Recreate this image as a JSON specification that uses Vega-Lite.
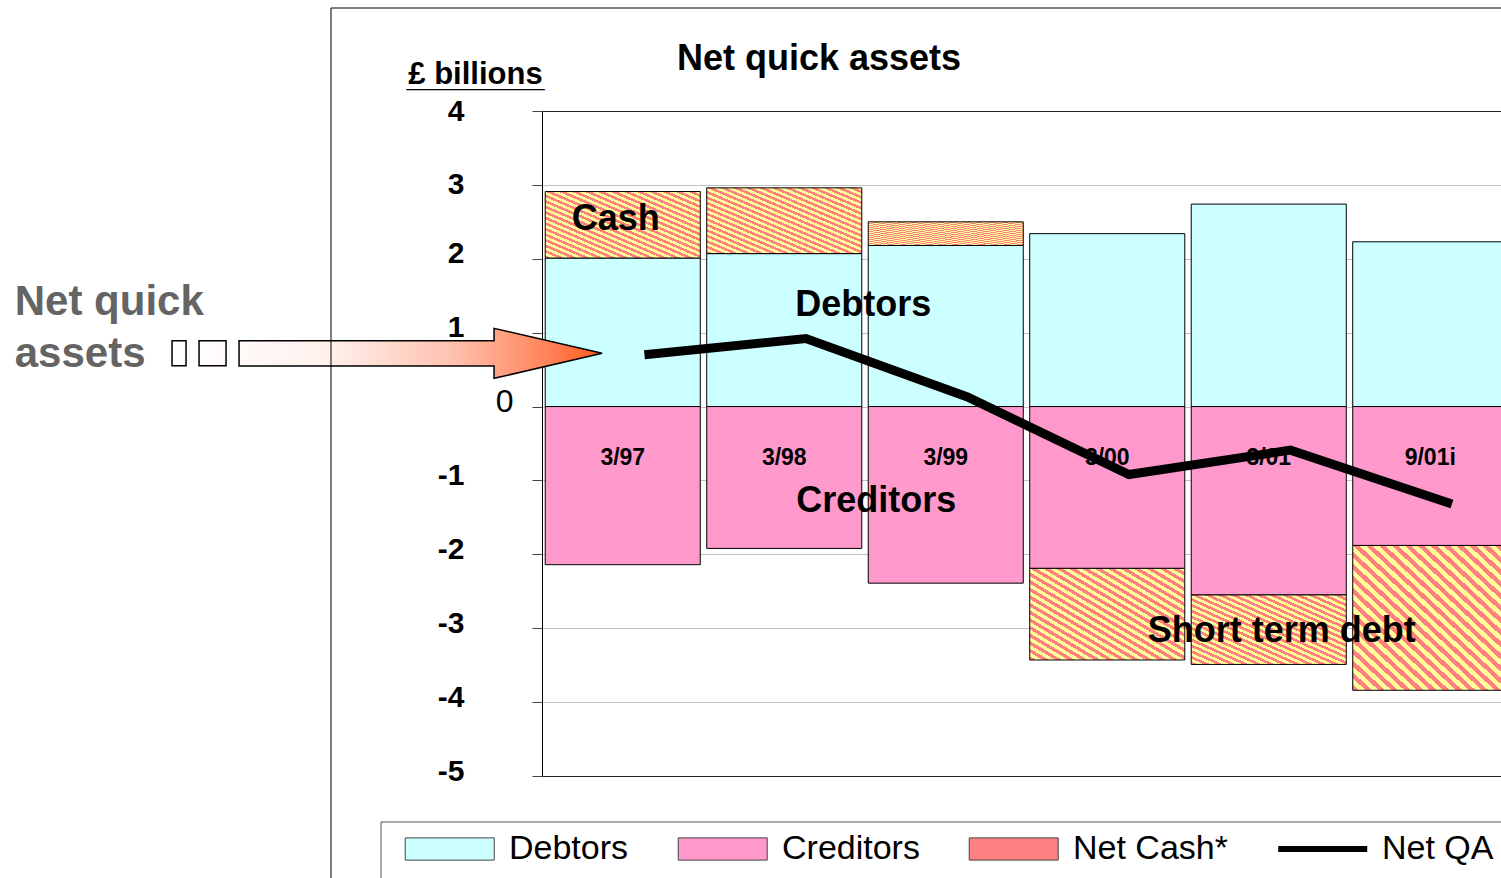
{
  "$schema": "https://vega.github.io/schema/vega-lite/v6.json",
  "width": 959,
  "height": 665,
  "autosize": {"type": "none"},
  "padding": {"left": 542, "top": 111, "right": 0, "bottom": 102},
  "background": "#ffffff",
  "config": {"view": {"stroke": null}, "font": "Liberation Sans"},
  "title": {"text": "Net quick assets", "anchor": "start", "frame": "group", "align": "left", "dx": 135, "offset": -99, "baseline": "alphabetic", "font": "Liberation Sans", "fontSize": 36, "fontWeight": "bold", "color": "#000000"},
  "layer": [
    {
      "data": {"values": [
        {"cat": "3/97", "part": "Debtors", "amount": 2.01},
        {"cat": "3/97", "part": "Net Cash*", "amount": 0.90},
        {"cat": "3/97", "part": "Creditors", "amount": -2.14},
        {"cat": "3/98", "part": "Debtors", "amount": 2.07},
        {"cat": "3/98", "part": "Net Cash*", "amount": 0.89},
        {"cat": "3/98", "part": "Creditors", "amount": -1.92},
        {"cat": "3/99", "part": "Debtors", "amount": 2.18},
        {"cat": "3/99", "part": "Net Cash*", "amount": 0.32},
        {"cat": "3/99", "part": "Creditors", "amount": -2.39},
        {"cat": "3/00", "part": "Debtors", "amount": 2.34},
        {"cat": "3/00", "part": "Creditors", "amount": -2.19},
        {"cat": "3/00", "part": "Net Cash*", "amount": -1.24},
        {"cat": "3/01", "part": "Debtors", "amount": 2.74},
        {"cat": "3/01", "part": "Creditors", "amount": -2.55},
        {"cat": "3/01", "part": "Net Cash*", "amount": -0.94},
        {"cat": "9/01i", "part": "Debtors", "amount": 2.23},
        {"cat": "9/01i", "part": "Creditors", "amount": -1.88},
        {"cat": "9/01i", "part": "Net Cash*", "amount": -1.96}
      ]},
      "transform": [{"stack": "amount", "groupby": ["cat"], "sort": [{"field": "part", "order": "ascending"}], "as": ["v0", "v1"], "offset": "zero"}],
      "encoding": {
        "x": {"field": "cat", "type": "nominal", "sort": null, "scale": {"domain": ["3/97", "3/98", "3/99", "3/00", "3/01", "9/01i"], "range": [0, 969], "paddingInner": 0.04, "paddingOuter": 0.02}, "axis": null},
        "y": {"field": "v0", "type": "quantitative", "scale": {"domain": [-5, 4], "nice": false, "zero": false},
          "axis": {
            "values": [-5, -4, -3, -2, -1, 0, 1, 2, 3, 4],
            "labelExpr": "'' + datum.value",
            "grid": true,
            "gridColor": {"condition": {"test": "datum.value === 4 || datum.value === -5", "value": "#222222"}, "value": "#c0c0c0"},
            "domain": true, "domainColor": "#000000", "domainWidth": 1,
            "ticks": true, "tickSize": 10, "tickColor": "#444444",
            "labelFont": "Liberation Sans",
            "labelFontSize": {"condition": {"test": "datum.value === 0", "value": 32}, "value": 30},
            "labelFontWeight": {"condition": {"test": "datum.value === 0", "value": "normal"}, "value": "bold"},
            "labelPadding": {"condition": {"test": "datum.value === 0", "value": 19}, "value": 68},
            "labelOffset": {"condition": {"test": "datum.value >= 3", "value": 0}, "value": -5},
            "labelColor": "#000000", "labelBaseline": "middle",
            "title": ["£ billions", "________"],
            "titleFont": "Liberation Sans", "titleFontSize": 31, "titleFontWeight": "bold", "titleColor": "#000000",
            "titleAngle": 0, "titleAlign": "center", "titleBaseline": "alphabetic", "titleX": -67, "titleY": -28, "titleLineHeight": 2
          }},
        "y2": {"field": "v1"}
      },
      "layer": [
        {
          "transform": [{"filter": "datum.part !== 'Net Cash*'"}],
          "mark": {"type": "bar", "stroke": "#000000", "strokeWidth": 1},
          "encoding": {
            "color": {"field": "part", "type": "nominal",
              "scale": {"domain": ["Debtors", "Creditors", "Net Cash*"], "range": ["#ccffff", "#ff99cc", "#ff8080"]},
              "legend": {
                "title": null, "orient": "none", "legendX": -161, "legendY": 711, "direction": "horizontal",
                "padding": 10,
                "labelFont": "Liberation Sans", "labelFontSize": 34, "labelColor": "#000000", "labelLimit": 300,
                "symbolType": "M-0.25,-1H7.75V1H-0.25Z", "symbolSize": 495, "symbolStrokeColor": "#444444", "symbolStrokeWidth": 1,
                "labelOffset": 84, "columnPadding": 35
              }}
          }
        },
        {
          "transform": [{"filter": "datum.part === 'Net Cash*'"}],
          "mark": {"type": "bar", "stroke": "#000000", "strokeWidth": 1,
            "fill": {"gradient": "linear", "x1": 0, "y1": 1, "x2": 1, "y2": 0, "stops": [
              {"offset": 0, "color": "#ff8080"}, {"offset": 0.0208, "color": "#ff8080"},
              {"offset": 0.0208, "color": "#ffff99"}, {"offset": 0.0417, "color": "#ffff99"},
              {"offset": 0.0417, "color": "#ff8080"}, {"offset": 0.0625, "color": "#ff8080"},
              {"offset": 0.0625, "color": "#ffff99"}, {"offset": 0.0833, "color": "#ffff99"},
              {"offset": 0.0833, "color": "#ff8080"}, {"offset": 0.1042, "color": "#ff8080"},
              {"offset": 0.1042, "color": "#ffff99"}, {"offset": 0.125, "color": "#ffff99"},
              {"offset": 0.125, "color": "#ff8080"}, {"offset": 0.1458, "color": "#ff8080"},
              {"offset": 0.1458, "color": "#ffff99"}, {"offset": 0.1667, "color": "#ffff99"},
              {"offset": 0.1667, "color": "#ff8080"}, {"offset": 0.1875, "color": "#ff8080"},
              {"offset": 0.1875, "color": "#ffff99"}, {"offset": 0.2083, "color": "#ffff99"},
              {"offset": 0.2083, "color": "#ff8080"}, {"offset": 0.2292, "color": "#ff8080"},
              {"offset": 0.2292, "color": "#ffff99"}, {"offset": 0.25, "color": "#ffff99"},
              {"offset": 0.25, "color": "#ff8080"}, {"offset": 0.2708, "color": "#ff8080"},
              {"offset": 0.2708, "color": "#ffff99"}, {"offset": 0.2917, "color": "#ffff99"},
              {"offset": 0.2917, "color": "#ff8080"}, {"offset": 0.3125, "color": "#ff8080"},
              {"offset": 0.3125, "color": "#ffff99"}, {"offset": 0.3333, "color": "#ffff99"},
              {"offset": 0.3333, "color": "#ff8080"}, {"offset": 0.3542, "color": "#ff8080"},
              {"offset": 0.3542, "color": "#ffff99"}, {"offset": 0.375, "color": "#ffff99"},
              {"offset": 0.375, "color": "#ff8080"}, {"offset": 0.3958, "color": "#ff8080"},
              {"offset": 0.3958, "color": "#ffff99"}, {"offset": 0.4167, "color": "#ffff99"},
              {"offset": 0.4167, "color": "#ff8080"}, {"offset": 0.4375, "color": "#ff8080"},
              {"offset": 0.4375, "color": "#ffff99"}, {"offset": 0.4583, "color": "#ffff99"},
              {"offset": 0.4583, "color": "#ff8080"}, {"offset": 0.4792, "color": "#ff8080"},
              {"offset": 0.4792, "color": "#ffff99"}, {"offset": 0.5, "color": "#ffff99"},
              {"offset": 0.5, "color": "#ff8080"}, {"offset": 0.5208, "color": "#ff8080"},
              {"offset": 0.5208, "color": "#ffff99"}, {"offset": 0.5417, "color": "#ffff99"},
              {"offset": 0.5417, "color": "#ff8080"}, {"offset": 0.5625, "color": "#ff8080"},
              {"offset": 0.5625, "color": "#ffff99"}, {"offset": 0.5833, "color": "#ffff99"},
              {"offset": 0.5833, "color": "#ff8080"}, {"offset": 0.6042, "color": "#ff8080"},
              {"offset": 0.6042, "color": "#ffff99"}, {"offset": 0.625, "color": "#ffff99"},
              {"offset": 0.625, "color": "#ff8080"}, {"offset": 0.6458, "color": "#ff8080"},
              {"offset": 0.6458, "color": "#ffff99"}, {"offset": 0.6667, "color": "#ffff99"},
              {"offset": 0.6667, "color": "#ff8080"}, {"offset": 0.6875, "color": "#ff8080"},
              {"offset": 0.6875, "color": "#ffff99"}, {"offset": 0.7083, "color": "#ffff99"},
              {"offset": 0.7083, "color": "#ff8080"}, {"offset": 0.7292, "color": "#ff8080"},
              {"offset": 0.7292, "color": "#ffff99"}, {"offset": 0.75, "color": "#ffff99"},
              {"offset": 0.75, "color": "#ff8080"}, {"offset": 0.7708, "color": "#ff8080"},
              {"offset": 0.7708, "color": "#ffff99"}, {"offset": 0.7917, "color": "#ffff99"},
              {"offset": 0.7917, "color": "#ff8080"}, {"offset": 0.8125, "color": "#ff8080"},
              {"offset": 0.8125, "color": "#ffff99"}, {"offset": 0.8333, "color": "#ffff99"},
              {"offset": 0.8333, "color": "#ff8080"}, {"offset": 0.8542, "color": "#ff8080"},
              {"offset": 0.8542, "color": "#ffff99"}, {"offset": 0.875, "color": "#ffff99"},
              {"offset": 0.875, "color": "#ff8080"}, {"offset": 0.8958, "color": "#ff8080"},
              {"offset": 0.8958, "color": "#ffff99"}, {"offset": 0.9167, "color": "#ffff99"},
              {"offset": 0.9167, "color": "#ff8080"}, {"offset": 0.9375, "color": "#ff8080"},
              {"offset": 0.9375, "color": "#ffff99"}, {"offset": 0.9583, "color": "#ffff99"},
              {"offset": 0.9583, "color": "#ff8080"}, {"offset": 0.9792, "color": "#ff8080"},
              {"offset": 0.9792, "color": "#ffff99"}, {"offset": 1, "color": "#ffff99"}
            ]}}
        }
      ]
    },
    {
      "data": {"values": [
        {"cat": "3/97", "netqa": 0.70},
        {"cat": "3/98", "netqa": 0.92},
        {"cat": "3/99", "netqa": 0.13},
        {"cat": "3/00", "netqa": -0.92},
        {"cat": "3/01", "netqa": -0.59},
        {"cat": "9/01i", "netqa": -1.32}
      ]},
      "layer": [
        {
          "mark": {"type": "text", "font": "Liberation Sans", "fontSize": 23, "fontWeight": "bold", "color": "#000000", "baseline": "middle", "align": "center"},
          "encoding": {
            "x": {"field": "cat", "type": "nominal"},
            "y": {"datum": -0.69, "type": "quantitative"},
            "text": {"field": "cat"}
          }
        },
        {
          "mark": {"type": "line", "strokeCap": "butt", "strokeJoin": "miter"},
          "encoding": {
            "x": {"field": "cat", "type": "nominal", "bandPosition": 0.64},
            "y": {"field": "netqa", "type": "quantitative"},
            "strokeWidth": {"value": 9},
            "stroke": {"datum": "Net QA", "type": "nominal", "scale": {"domain": ["Net QA"], "range": ["#000000"]},
              "legend": {
                "title": null, "orient": "none", "legendX": 712, "legendY": 711, "direction": "horizontal",
                "padding": 10,
                "labelFont": "Liberation Sans", "labelFontSize": 34, "labelColor": "#000000", "labelLimit": 300,
                "symbolType": "M-0.25,0H7.75", "symbolSize": 495, "symbolStrokeWidth": 6, "symbolStrokeColor": "#000000",
                "labelOffset": 84
              }}
          }
        }
      ]
    },
    {
      "data": {"values": [{"label": "Cash", "cat": "3/97", "value": 2.39}]},
      "mark": {"type": "text", "font": "Liberation Sans", "fontSize": 36, "fontWeight": "bold", "color": "#000000", "align": "center", "baseline": "alphabetic", "dx": -7},
      "encoding": {"x": {"field": "cat", "type": "nominal"}, "y": {"field": "value", "type": "quantitative"}, "text": {"field": "label"}}
    },
    {
      "data": {"values": [{"label": "Debtors", "cat": "3/98", "value": 1.23}]},
      "mark": {"type": "text", "font": "Liberation Sans", "fontSize": 36, "fontWeight": "bold", "color": "#000000", "align": "center", "baseline": "alphabetic", "dx": 79},
      "encoding": {"x": {"field": "cat", "type": "nominal"}, "y": {"field": "value", "type": "quantitative"}, "text": {"field": "label"}}
    },
    {
      "data": {"values": [{"label": "Creditors", "cat": "3/98", "value": -1.43}]},
      "mark": {"type": "text", "font": "Liberation Sans", "fontSize": 36, "fontWeight": "bold", "color": "#000000", "align": "center", "baseline": "alphabetic", "dx": 92},
      "encoding": {"x": {"field": "cat", "type": "nominal"}, "y": {"field": "value", "type": "quantitative"}, "text": {"field": "label"}}
    },
    {
      "data": {"values": [{"label": "Short term debt", "cat": "3/01", "value": -3.19}]},
      "mark": {"type": "text", "font": "Liberation Sans", "fontSize": 36, "fontWeight": "bold", "color": "#000000", "align": "center", "baseline": "alphabetic", "dx": 13},
      "encoding": {"x": {"field": "cat", "type": "nominal"}, "y": {"field": "value", "type": "quantitative"}, "text": {"field": "label"}}
    },
    {
      "data": {"values": [{"label": ["Net quick", "assets"], "cat": "3/97", "value": 0.72}]},
      "layer": [
        {
          "mark": {"type": "point", "filled": true, "opacity": 1, "stroke": "#000000", "strokeWidth": 1.5,
            "shape": "M-45.07,-1.27H-43.67V1.23H-45.07Z M-42.37,-1.27H-39.67V1.23H-42.37Z M-2.07,0L-12.87,-2.5V-1.27H-38.37V1.27H-12.87V2.5Z",
            "fill": {"gradient": "linear", "x1": 0, "y1": 0, "x2": 1, "y2": 0, "stops": [
              {"offset": 0, "color": "#ffffff"}, {"offset": 0.35, "color": "#fff2ee"}, {"offset": 0.65, "color": "#ffc2b0"}, {"offset": 0.85, "color": "#ff8a62"}, {"offset": 1, "color": "#ff5a1e"}
            ]}},
          "encoding": {
            "x": {"field": "cat", "type": "nominal"},
            "y": {"field": "value", "type": "quantitative"},
            "size": {"datum": "legend box", "type": "nominal", "scale": {"domain": ["legend box"], "range": [400, 400]},
              "legend": {"title": null, "orient": "none", "legendX": -161.5, "legendY": 710.5, "padding": 620, "strokeColor": "#555555", "zindex": 0,
                "labelExpr": "''", "labelFontSize": 1, "labelColor": "transparent"}},
            "opacity": {"datum": "frame", "type": "nominal", "scale": {"domain": ["frame"], "range": [1, 1]},
              "legend": {"title": null, "orient": "none", "legendX": -211.5, "legendY": -103.5, "padding": 950, "strokeColor": "#000000", "zindex": 0,
                "symbolSize": 1, "labelExpr": "''", "labelFontSize": 1, "labelColor": "transparent"}}
          }
        },
        {
          "mark": {"type": "text", "font": "Liberation Sans", "fontSize": 42, "fontWeight": "bold", "color": "#646464", "align": "left", "baseline": "alphabetic", "lineHeight": 52, "dx": -608, "dy": -38},
          "encoding": {
            "x": {"field": "cat", "type": "nominal"},
            "y": {"field": "value", "type": "quantitative"},
            "text": {"field": "label"}
          }
        }
      ]
    }
  ]
}
